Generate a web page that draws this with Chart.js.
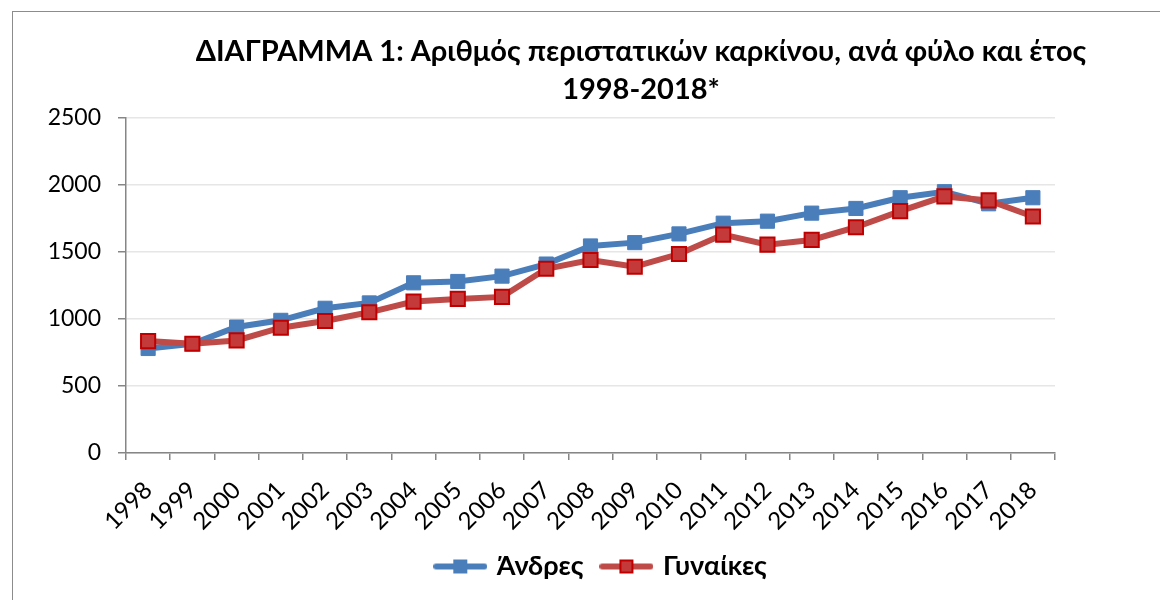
<!DOCTYPE html>
<html>
<head>
<meta charset="utf-8">
<script src="https://cdn.jsdelivr.net/npm/chart.js@4.4.0/dist/chart.umd.min.js"></script>
<style>
  html, body { margin: 0; padding: 0; background: #fff; overflow: hidden; }
  #wrap { position: relative; width: 1160px; height: 600px; }
  #frame { position: absolute; left: 12px; top: 11px; width: 1300px; height: 700px; border: 1.5px solid #8c8c8c; }
  canvas { position: absolute; left: 0; top: 0; }
</style>
</head>
<body>
<div id="wrap">
  <div id="frame"></div>
  <canvas id="chart" width="1160" height="600"></canvas>
</div>
<script>
const years = ['1998', '1999', '2000', '2001', '2002', '2003', '2004', '2005', '2006', '2007', '2008',
  '2009', '2010', '2011', '2012', '2013', '2014', '2015', '2016', '2017', '2018'];
const andres = [780, 815, 940, 990, 1080, 1120, 1270, 1280, 1320, 1410, 1545,
  1570, 1635, 1715, 1730, 1790, 1825, 1905, 1950, 1860, 1905];
const gynaikes = [835, 815, 840, 935, 985, 1050, 1130, 1150, 1165, 1375, 1440,
  1390, 1485, 1630, 1555, 1590, 1685, 1805, 1915, 1885, 1765];
const yTicks = [0, 500, 1000, 1500, 2000, 2500];
const titleLines = ['ΔΙΑΓΡΑΜΜΑ 1: Αριθμός περιστατικών καρκίνου, ανά φύλο και έτος', '1998-2018*'];

const FONT = 'Lato';

// little line + square picture for the legend
function legendMark(line, fill, border) {
  const c = document.createElement('canvas');
  c.width = 54; c.height = 18;
  const g = c.getContext('2d');
  g.strokeStyle = line; g.lineWidth = 6; g.lineCap = 'round';
  g.beginPath(); g.moveTo(3, 9); g.lineTo(51, 9); g.stroke();
  g.fillStyle = fill;
  g.fillRect(20, 2, 14, 14);
  if (border) {
    g.strokeStyle = border; g.lineWidth = 2;
    g.strokeRect(21, 3, 12, 12);
  }
  return c;
}
const marks = [
  legendMark('#4a7ebb', '#4a7ebb', null),
  legendMark('#be4b48', '#c43a3a', '#c00000')
];

const titlePlugin = {
  id: 'titleText',
  afterDraw(chart) {
    const ctx = chart.ctx;
    ctx.save();
    ctx.font = 'bold 29px ' + FONT;
    ctx.fillStyle = '#000';
    ctx.textAlign = 'center';
    ctx.textBaseline = 'middle';
    ctx.fillText(titleLines[0], 641, 52);
    ctx.fillText(titleLines[1], 641, 90);
    ctx.restore();
  }
};

new Chart(document.getElementById('chart'), {
  type: 'line',
  data: {
    labels: years,
    datasets: [{
      label: 'Άνδρες',
      data: andres,
      order: 1,
      borderColor: '#4a7ebb',
      backgroundColor: '#4a7ebb',
      borderWidth: 6,
      pointStyle: 'rect',
      pointRadius: 10,
      pointBackgroundColor: '#4a7ebb',
      pointBorderColor: '#4a7ebb',
      pointBorderWidth: 1,
      tension: 0
    }, {
      label: 'Γυναίκες',
      data: gynaikes,
      order: 0,
      borderColor: '#be4b48',
      backgroundColor: '#c43a3a',
      borderWidth: 6,
      pointStyle: 'rect',
      pointRadius: 10,
      pointBackgroundColor: '#c43a3a',
      pointBorderColor: '#c00000',
      pointBorderWidth: 2,
      tension: 0
    }]
  },
  options: {
    responsive: false,
    animation: false,
    devicePixelRatio: 1,
    layout: { padding: { left: 44, right: 0, top: 118, bottom: 10 } },
    plugins: {
      title: { display: false },
      tooltip: { enabled: false },
      legend: {
        position: 'bottom',
        labels: {
          usePointStyle: true,
          pointStyleWidth: 46,
          padding: 20,
          color: '#000',
          font: { family: FONT, size: 27, weight: 'bold' },
          generateLabels: chart => chart.data.datasets.map((ds, i) => ({
            text: ds.label,
            pointStyle: marks[i],
            fillStyle: ds.borderColor,
            strokeStyle: ds.borderColor,
            lineWidth: 0,
            hidden: false,
            datasetIndex: i,
            fontColor: '#000'
          }))
        }
      }
    },
    scales: {
      x: {
        type: 'category',
        offset: true,
        afterFit: scale => { scale.height = 80; },
        border: { display: true, color: '#868686', width: 1.5 },
        grid: { offset: true, drawOnChartArea: false, drawTicks: true, tickLength: 7, tickColor: '#868686', lineWidth: 1.5 },
        ticks: { color: '#000', font: { family: FONT, size: 24 }, minRotation: 45, maxRotation: 45, autoSkip: false, padding: 16 }
      },
      y: {
        min: 0,
        max: 2500,
        afterFit: scale => { scale.width = 82; },
        afterBuildTicks: scale => { scale.ticks = yTicks.map(v => ({ value: v })); },
        border: { display: true, color: '#868686', width: 1.5 },
        grid: { color: '#e6e6e6', lineWidth: 1.5, tickColor: '#868686', tickLength: 8 },
        ticks: { color: '#000', font: { family: FONT, size: 23 }, padding: 17, callback: v => String(v) }
      },
      // empty box on the right, keeps the plot where it is
      side: {
        type: 'linear',
        position: 'right',
        afterFit: scale => { scale.width = 105; },
        border: { display: false },
        grid: { display: false, drawOnChartArea: false },
        ticks: { display: false }
      }
    }
  },
  plugins: [titlePlugin]
});
</script>
</body>
</html>
